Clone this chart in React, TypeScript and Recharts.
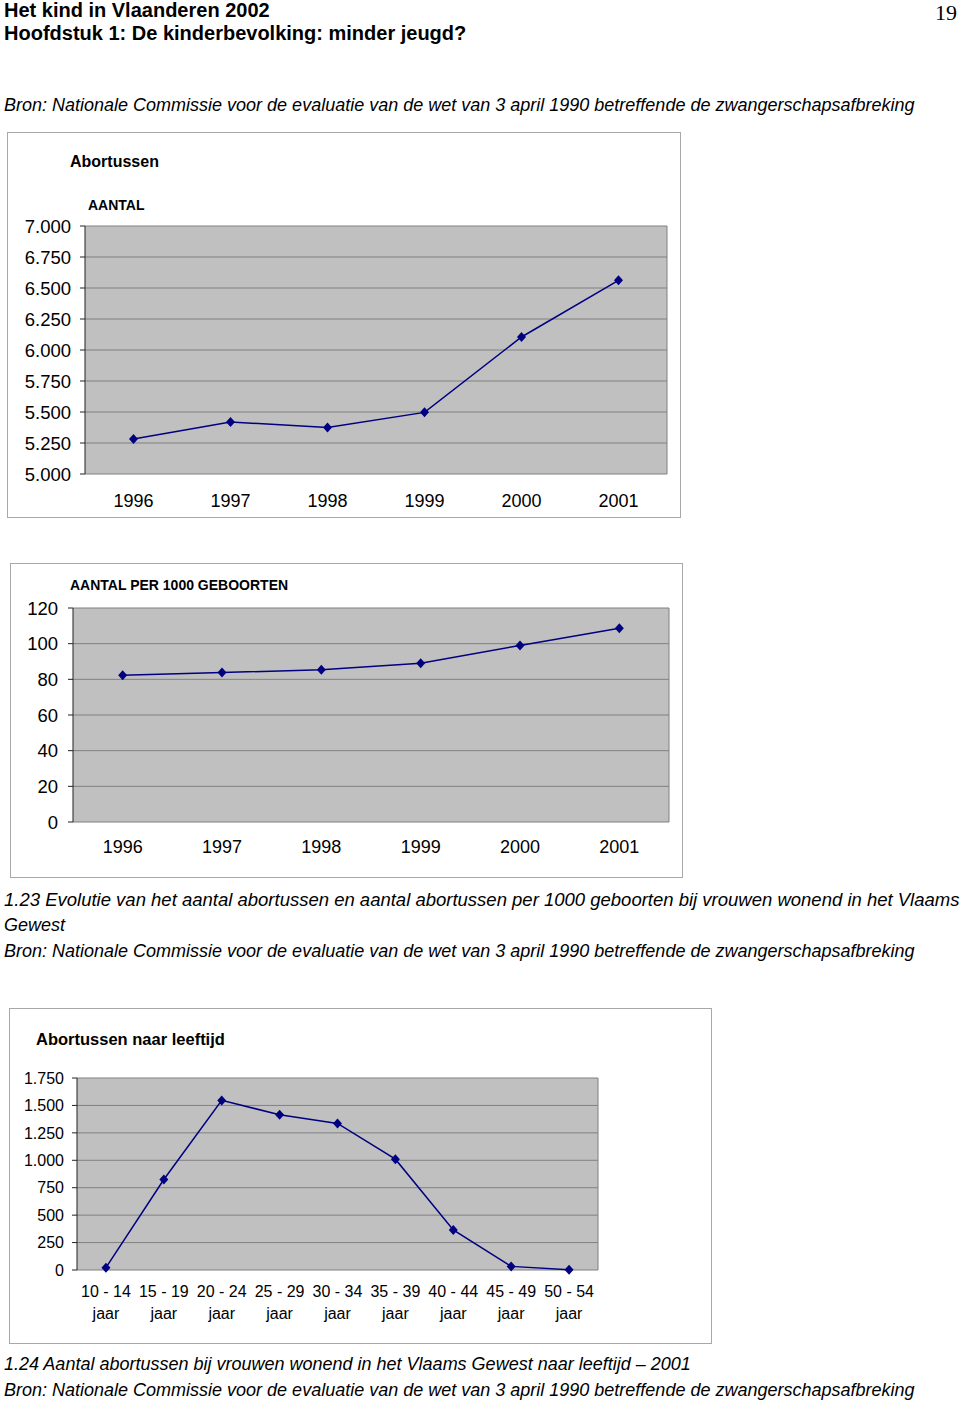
import React from 'react';
import {LineChart, Line, XAxis, YAxis, CartesianGrid, ReferenceLine} from 'recharts';

// data
const years = ['1996', '1997', '1998', '1999', '2000', '2001'];
const abortions = [5282, 5419, 5376, 5497, 6105, 6562];
const perThousandBirths = [82.3, 83.8, 85.4, 89.0, 99.0, 108.7];

const ageGroups = ['10 - 14', '15 - 19', '20 - 24', '25 - 29', '30 - 34', '35 - 39', '40 - 44', '45 - 49', '50 - 54'];
const byAge = [21, 825, 1546, 1415, 1336, 1010, 365, 33, 2];

const ticksAantal = [5000, 5250, 5500, 5750, 6000, 6250, 6500, 6750, 7000];
const ticksPer1000 = [0, 20, 40, 60, 80, 100, 120];
const ticksAge = [0, 250, 500, 750, 1000, 1250, 1500, 1750];

const bron = 'Bron: Nationale Commissie voor de evaluatie van de wet van 3 april 1990 betreffende de zwangerschapsafbreking';

const FONT = '"Liberation Sans", Arial, sans-serif';
const NAVY = '#000080';

const dotted = (v: number) => String(v).replace(/\B(?=(\d{3})+(?!\d))/g, '.');

function Diamond(props: any) {
    const {cx, cy} = props;
    if (cx == null || cy == null) return null;
    return <polygon points={`${cx},${cy - 5} ${cx + 4.5},${cy} ${cx},${cy + 5} ${cx - 4.5},${cy}`} fill={NAVY}/>;
}

function TwoLineTick(props: any) {
    const {x, y, payload, labels, fontSize} = props;
    const label = labels[Math.floor(payload.value)] ?? '';
    return (
        <text x={x} y={y} textAnchor="middle" fontSize={fontSize} fontFamily={FONT} fill="#000">
            <tspan x={x} dy={27}>{label}</tspan>
            <tspan x={x} dy={22}>jaar</tspan>
        </text>
    );
}

type PanelProps = {
    labels: string[];
    values: number[];
    yTicks: number[];
    width: number;
    height: number;
    margin: { top: number; right: number; left: number; bottom: number };
    yWidth: number;
    yFont: number;
    yMargin: number;
    xFont: number;
    xMargin: number;
    xHeight: number;
    twoLine?: boolean;
};

function Panel({labels, values, yTicks, width, height, margin, yWidth, yFont, yMargin, xFont, xMargin, xHeight, twoLine}: PanelProps) {
    const n = labels.length;
    const data = labels.map((l, i) => ({x: i + 0.5, label: l, v: values[i]}));
    const bounds = labels.map((_, i) => i).concat([n]);
    const centers = labels.map((_, i) => i + 0.5);
    return (
        <LineChart width={width} height={height} data={data} margin={margin}>
            <CartesianGrid xAxisId="t" vertical={false} stroke="#808080" fill="#c0c0c0" fillOpacity={1}/>
            <XAxis xAxisId="t" dataKey="x" type="number" domain={[0, n]} ticks={bounds} interval={0}
                   tick={false} tickSize={6} height={0} axisLine={{stroke: '#222'}} tickLine={{stroke: '#222'}}/>
            <XAxis xAxisId="l" dataKey="x" type="number" domain={[0, n]} ticks={centers} interval={0}
                   height={xHeight} axisLine={false} tickLine={false} tickSize={0} tickMargin={xMargin}
                   tickFormatter={(v: number) => labels[Math.floor(v)] ?? ''}
                   tick={twoLine ? <TwoLineTick labels={labels} fontSize={xFont}/> : {fill: '#000', fontSize: xFont, fontFamily: FONT}}/>
            <YAxis type="number" domain={[yTicks[0], yTicks[yTicks.length - 1]]} ticks={yTicks} interval={0}
                   width={yWidth} tickSize={5} tickMargin={yMargin} tickFormatter={dotted}
                   axisLine={{stroke: '#222'}} tickLine={{stroke: '#222'}}
                   tick={{fill: '#000', fontSize: yFont, fontFamily: FONT}}/>
            <ReferenceLine xAxisId="t" x={n} stroke="#808080"/>
            <Line xAxisId="t" dataKey="v" type="linear" stroke={NAVY} strokeWidth={1.5}
                  dot={<Diamond/>} activeDot={false} isAnimationActive={false}/>
        </LineChart>
    );
}

function T({x, y, size, bold, italic, serif, children}: any) {
    return (
        <div style={{
            position: 'absolute', left: x, top: y - size * 0.59, fontSize: size, lineHeight: `${size * 1.2}px`,
            fontWeight: bold ? 'bold' : 'normal', fontStyle: italic ? 'italic' : 'normal',
            fontFamily: serif ? '"Liberation Serif", "Times New Roman", serif' : FONT,
            whiteSpace: 'nowrap', color: '#000'
        }}>{children}</div>
    );
}

function Box({x, y, w, h, children}: any) {
    return (
        <div style={{position: 'absolute', left: x, top: y, width: w - 2, height: h - 2, border: '1px solid #a8a8a8'}}>
            {children}
        </div>
    );
}

export default function App() {
    return (
        <div style={{position: 'absolute', left: 0, top: 0, width: 960, height: 1405, background: '#fff', fontFamily: FONT}}>
            <T x={4} y={10} size={20} bold>Het kind in Vlaanderen 2002</T>
            <T x={4} y={33} size={20} bold>Hoofdstuk 1: De kinderbevolking: minder jeugd?</T>
            <T x={935} y={13} size={22} serif>19</T>
            <T x={4} y={106} size={18} italic>{bron}</T>

            <Box x={7} y={132} w={674} h={386}>
                <T x={62} y={28} size={16} bold>Abortussen</T>
                <T x={80} y={72} size={14} bold>AANTAL</T>
                <Panel labels={years} values={abortions} yTicks={ticksAantal} width={672} height={384}
                       margin={{top: 93, right: 13, left: 0, bottom: 0}} yWidth={77} yFont={18.5} yMargin={9}
                       xFont={18} xMargin={20} xHeight={43}/>
            </Box>

            <Box x={10} y={563} w={673} h={315}>
                <T x={59} y={21} size={14} bold>AANTAL PER 1000 GEBOORTEN</T>
                <Panel labels={years} values={perThousandBirths} yTicks={ticksPer1000} width={671} height={313}
                       margin={{top: 44, right: 13, left: 0, bottom: 0}} yWidth={62} yFont={18.5} yMargin={10}
                       xFont={18} xMargin={18} xHeight={55}/>
            </Box>

            <T x={4} y={900} size={18.5} italic>1.23 Evolutie van het aantal abortussen en aantal abortussen per 1000 geboorten bij vrouwen wonend in het Vlaams</T>
            <T x={4} y={926} size={18} italic>Gewest</T>
            <T x={4} y={952} size={18} italic>{bron}</T>

            <Box x={9} y={1008} w={703} h={336}>
                <T x={26} y={31} size={16.5} bold>Abortussen naar leeftijd</T>
                <Panel labels={ageGroups} values={byAge} yTicks={ticksAge} width={701} height={334}
                       margin={{top: 69, right: 113, left: 0, bottom: 0}} yWidth={67} yFont={16} yMargin={8}
                       xFont={16} xMargin={0} xHeight={73} twoLine/>
            </Box>

            <T x={4} y={1365} size={18} italic>1.24 Aantal abortussen bij vrouwen wonend in het Vlaams Gewest naar leeftijd – 2001</T>
            <T x={4} y={1391} size={18} italic>{bron}</T>
        </div>
    );
}
